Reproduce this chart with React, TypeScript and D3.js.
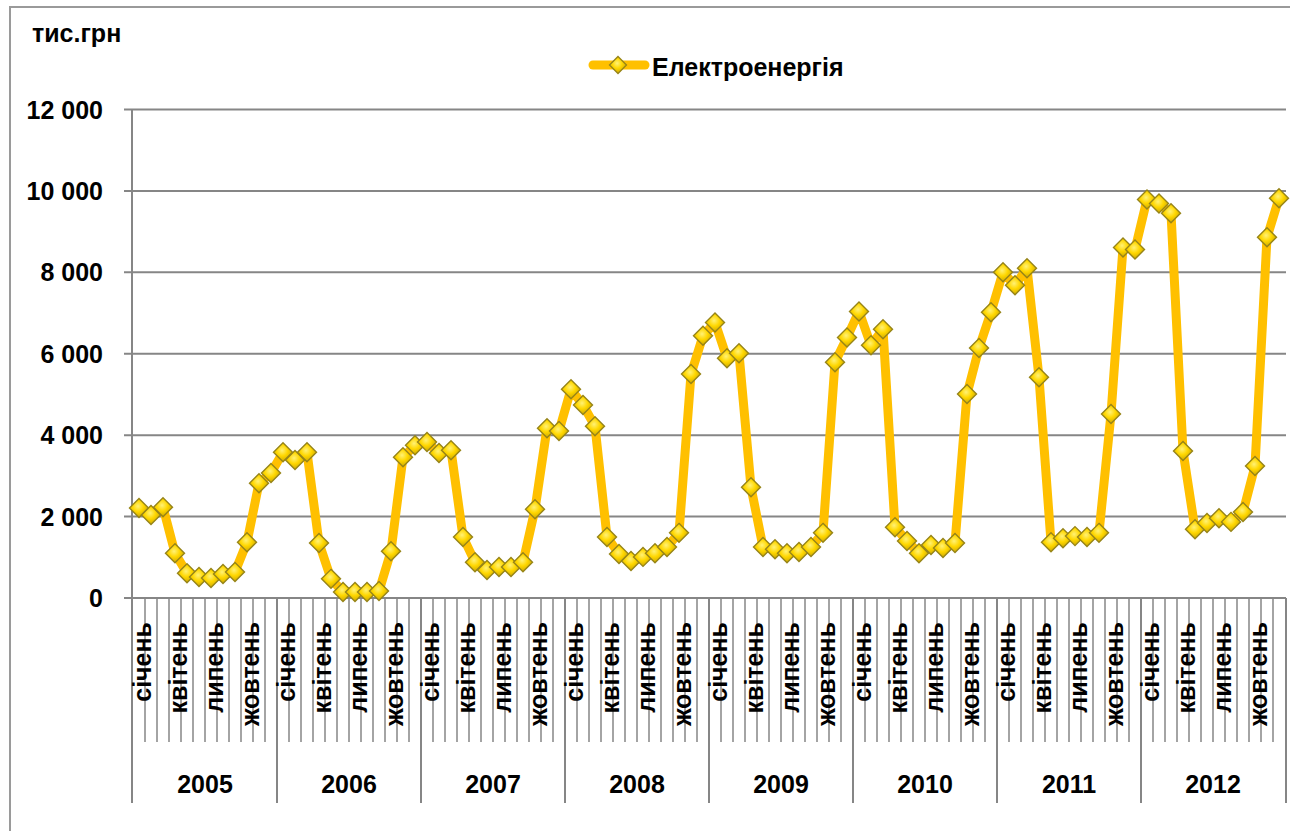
import React from "react";
import * as d3 from "d3";

const years = ["2005", "2006", "2007", "2008", "2009", "2010", "2011", "2012"];
const months = ["січень", "лютий", "березень", "квітень", "травень", "червень", "липень", "серпень", "вересень", "жовтень", "листопад", "грудень"];
const labeledMonths = [0, 3, 6, 9];
const seriesName = "Електроенергія";
const yTicks = [0, 2000, 4000, 6000, 8000, 10000, 12000];

const v2005 = [2210, 2040, 2230, 1100, 610, 515, 490, 590, 640, 1370, 2820, 3070];
const v2006 = [3580, 3390, 3580, 1350, 470, 150, 150, 150, 170, 1150, 3460, 3750];
const v2007 = [3830, 3560, 3630, 1500, 880, 690, 760, 760, 880, 2180, 4170, 4100];
const v2008 = [5130, 4740, 4220, 1500, 1080, 910, 1010, 1100, 1250, 1600, 5500, 6440];
const v2009 = [6770, 5890, 6010, 2720, 1250, 1200, 1100, 1130, 1250, 1600, 5790, 6400];
const v2010 = [7040, 6210, 6600, 1740, 1400, 1100, 1300, 1230, 1350, 5010, 6140, 7020];
const v2011 = [8000, 7680, 8100, 5420, 1370, 1470, 1520, 1500, 1600, 4520, 8610, 8560];
const v2012 = [9790, 9690, 9450, 3610, 1690, 1840, 1960, 1870, 2110, 3240, 8860, 9820];
const yearValues = [v2005, v2006, v2007, v2008, v2009, v2010, v2011, v2012];

const W = 1290, H = 831;
const X0 = 133, X1 = 1285;
const Y0 = 598, YTOP = 109.5;
const FONT = "'Liberation Sans', Arial, sans-serif";
const GRID = "#868686";
const FS = 25;

export default function App() {
  const data = yearValues.flatMap((arr, yi) =>
    arr.map((v, mi) => ({ idx: yi * 12 + mi, year: years[yi], month: months[mi], mi, v }))
  );
  const x = d3.scaleBand<number>().domain(data.map((d) => d.idx)).range([X0, X1]).paddingInner(0).paddingOuter(0);
  const y = d3.scaleLinear().domain([0, 12000]).range([Y0, YTOP]);
  const bw = x.bandwidth();
  const cx = (i: number) => (x(i) as number) + bw / 2;
  const line = d3.line<any>().x((d) => cx(d.idx)).y((d) => y(d.v));
  const fmt = (v: number) => d3.format(",")(v).replace(/,/g, " ");
  const diamond = (px: number, py: number, r = 9.5) =>
    `M${px},${py - r}L${px + r},${py}L${px},${py + r}L${px - r},${py}Z`;

  return (
    <svg width={W} height={H} style={{ position: "absolute", left: 0, top: 0, background: "#fff" }} fontFamily={FONT}>
      <defs>
        <radialGradient id="mk" cx="45%" cy="40%" r="65%">
          <stop offset="0%" stopColor="#FFF176" />
          <stop offset="45%" stopColor="#FFD700" />
          <stop offset="100%" stopColor="#C4A000" />
        </radialGradient>
      </defs>
      <rect x={10} y={7} width={1300} height={850} fill="#fff" stroke="#9a9a9a" strokeWidth={2} />
      <text x={32} y={42} fontSize={FS} fontWeight="bold">тис.грн</text>

      {/* legend */}
      <line x1={593} x2={645} y1={65} y2={65} stroke="#FFC000" strokeWidth={9} strokeLinecap="round" />
      <path d={diamond(618, 65, 8.5)} fill="url(#mk)" stroke="#968418" strokeWidth={1.3} />
      <text x={652} y={76} fontSize={FS} fontWeight="bold">{seriesName}</text>

      {/* grid + y ticks */}
      {yTicks.map((t) => (
        <g key={t}>
          <line x1={124} x2={X1 + 1} y1={y(t)} y2={y(t)} stroke={GRID} strokeWidth={2} />
          <text x={103} y={y(t)} dy="0.36em" textAnchor="end" fontSize={FS} fontWeight="bold">{fmt(t)}</text>
        </g>
      ))}
      <line x1={X0 - 1} x2={X0 - 1} y1={YTOP} y2={Y0} stroke={GRID} strokeWidth={2} />

      {/* category ticks */}
      {d3.range(0, 97).map((k) => {
        const xx = k === 96 ? X1 + 1 : (x(k) as number) - (k === 0 ? 1 : 0);
        const isYear = k % 12 === 0;
        return <line key={k} x1={xx} x2={xx} y1={Y0} y2={isYear ? 803 : 742} stroke={GRID} strokeWidth={isYear ? 2 : 1.5} />;
      })}

      {/* month labels */}
      {data.filter((d) => labeledMonths.includes(d.mi)).map((d) => (
        <text key={d.idx} transform={`translate(${cx(d.idx) + 12},622) rotate(-90)`} textAnchor="end" fontSize={FS} fontWeight="bold">
          {d.month}
        </text>
      ))}

      {/* year labels */}
      {years.map((yr, yi) => {
        const a = x(yi * 12) as number;
        return (
          <text key={yr} x={a + bw * 6} y={793} textAnchor="middle" fontSize={FS} fontWeight="bold">{yr}</text>
        );
      })}

      {/* series */}
      <path d={line(data) as string} fill="none" stroke="#FFC000" strokeWidth={9} strokeLinejoin="round" />
      {data.map((d) => (
        <path key={d.idx} d={diamond(cx(d.idx), y(d.v))} fill="url(#mk)" stroke="#968418" strokeWidth={1.4} />
      ))}
    </svg>
  );
}
